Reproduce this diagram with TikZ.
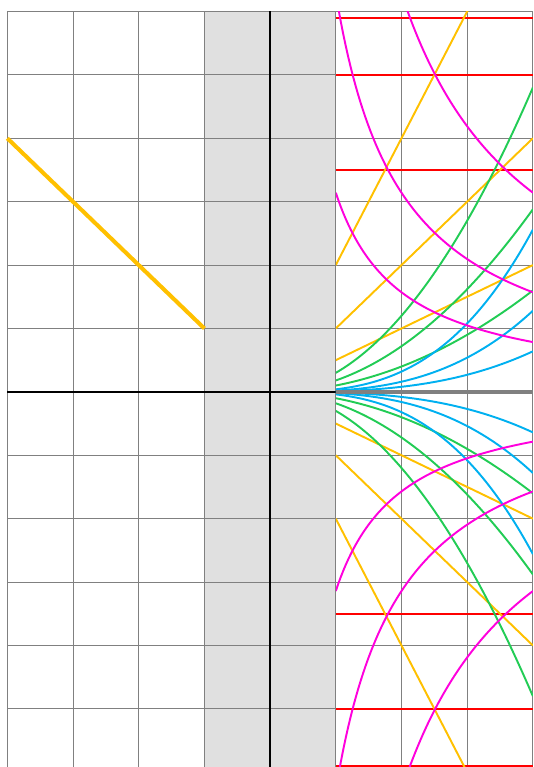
\documentclass[tikz,border=0pt]{standalone}
\usepackage{tikz}
\definecolor{amber}{HTML}{FFC000}
\definecolor{leaf}{HTML}{22CC55}
\definecolor{sky}{HTML}{00B0F0}
\definecolor{pink}{HTML}{FF00DD}
\definecolor{band}{HTML}{E0E0E0}

\begin{document}
\begin{tikzpicture}[x=1.314cm,y=1.268cm,
    grid line/.style={draw=gray,line width=0.55pt},
    curve/.style={line width=1.1pt},
    level line/.style={red,line width=1.3pt}]
      \useasboundingbox (-4.111,-5.917) rectangle (4.017,6.181);
      \clip (-4.111,-5.917) rectangle (4.017,6.181);

      % excluded strip
      \fill[band] (-1,-6) rectangle (1,6);

      \foreach \x in {-4, ..., 4}
        \draw[grid line] (\x,-6) -- (\x,6);
      \foreach \y in {-6, ..., 6}
        \draw[grid line] (-4,\y) -- (4,\y);

      \draw[black, line width=1.1pt] (-4,0) -- (1,0);
      \draw[black, line width=1.1pt] (0,-6) -- (0,6);

      \draw[amber, line width=2.3pt] (-4,4) -- (-1,1);

      \begin{scope}
        \clip (1,-6) rectangle (4,6);
        \foreach \c in {3.5, 5, 5.9} {
          \draw[level line] (1,\c) -- (4,\c);
          \draw[level line] (1,-\c) -- (4,-\c);
        }
        \foreach \m in {0.5, 1, 2} {
          \draw[curve, amber] (1,\m) -- (4,4*\m);
          \draw[curve, amber] (1,-\m) -- (4,-4*\m);
        }
        \foreach \c in {0.3, 0.18, 0.1} {
          \draw[curve, leaf] plot[domain=1:4, samples=60] (\x,{\c*\x*\x});
          \draw[curve, leaf] plot[domain=1:4, samples=60] (\x,{-\c*\x*\x});
        }
        \foreach \c in {0.04, 0.02, 0.01} {
          \draw[curve, sky] plot[domain=1:4, samples=60] (\x,{\c*\x*\x*\x});
          \draw[curve, sky] plot[domain=1:4, samples=60] (\x,{-\c*\x*\x*\x});
        }
        \foreach \k in {1, 2, 4} {
          \draw[curve, pink] plot[domain=1:4, samples=80] (\x,{\k*pi/\x});
          \draw[curve, pink] plot[domain=1:4, samples=80] (\x,{-\k*pi/\x});
        }
      \end{scope}

      \draw[gray, line width=1.9pt] (1,0) -- (4,0);
\end{tikzpicture}
\end{document}
